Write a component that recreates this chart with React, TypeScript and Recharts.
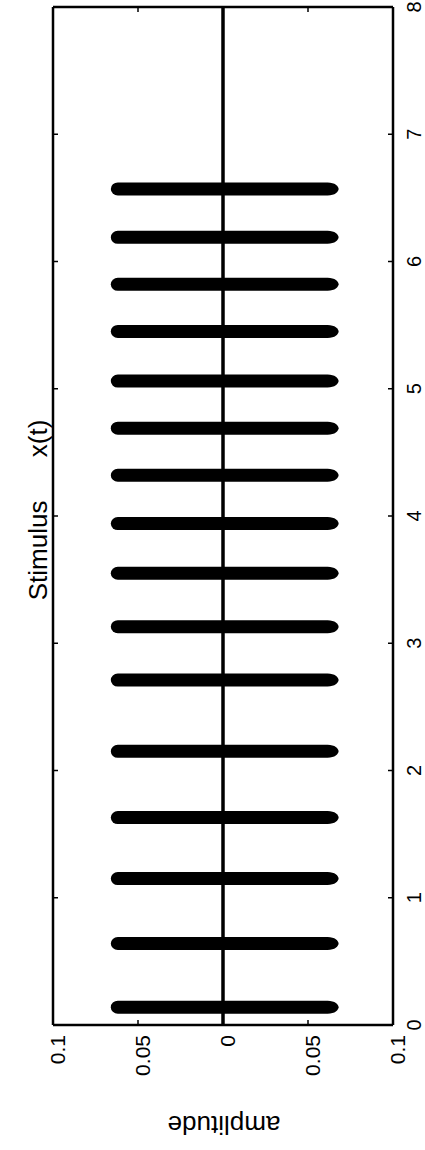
import React from 'react';
import { ComposedChart, Bar, XAxis, YAxis, ReferenceLine } from 'recharts';

// burst centre times (s)
const burstTimes = [0.14, 0.64, 1.15, 1.63, 2.15, 2.71, 3.13, 3.55, 3.94, 4.32, 4.69, 5.06, 5.45, 5.82, 6.19, 6.57];
// burst amplitude envelope (upper / lower)
const burstUpper = [0.066, 0.066, 0.066, 0.066, 0.066, 0.066, 0.066, 0.066, 0.066, 0.066, 0.066, 0.066, 0.066, 0.066, 0.066, 0.066];
const burstLower = [-0.068, -0.068, -0.068, -0.068, -0.068, -0.068, -0.068, -0.068, -0.068, -0.068, -0.068, -0.068, -0.068, -0.068, -0.068, -0.068];

const timeTicks = [0, 1, 2, 3, 4, 5, 6, 7, 8];
const ampTicks = [-0.1, -0.05, 0, 0.05, 0.1];
const ampTickLabels = ['0.1', '0.05', '0', '0.05', '0.1'];
const titleText = 'Stimulus      x(t)';
const ampLabelText = 'amplitude';

const data = burstTimes.map((t, i) => ({ t, range: [burstLower[i], burstUpper[i]] }));

const FONT = '"Liberation Sans", Arial, Helvetica, sans-serif';
const TICK_LEN = 5;

const BottomTick = (props: any) => {
  const { x, y, payload } = props;
  const idx = ampTicks.indexOf(payload.value);
  const label = idx >= 0 ? ampTickLabels[idx] : String(payload.value);
  const cx = x + 4;
  const cy = y + 10;
  return (
    <g>
      <line x1={x} y1={y} x2={x} y2={y - TICK_LEN} stroke="#000" strokeWidth={1.5} />
      <text x={cx} y={cy} transform={`rotate(-90, ${cx}, ${cy})`} textAnchor="end" dominantBaseline="central"
        fontFamily={FONT} fontSize={21} fill="#000">{label}</text>
    </g>
  );
};

const TopTick = (props: any) => {
  const { x, y } = props;
  return <line x1={x} y1={y} x2={x} y2={y + TICK_LEN} stroke="#000" strokeWidth={1.5} />;
};

const RightTick = (props: any) => {
  const { x, y, payload } = props;
  const cx = x + 21;
  return (
    <g>
      <line x1={x} y1={y} x2={x - TICK_LEN} y2={y} stroke="#000" strokeWidth={1.5} />
      <text x={cx} y={y} transform={`rotate(-90, ${cx}, ${y})`} textAnchor="middle" dominantBaseline="central"
        fontFamily={FONT} fontSize={20} fill="#000">{payload.value}</text>
    </g>
  );
};

const LeftTick = (props: any) => {
  const { x, y } = props;
  return <line x1={x} y1={y} x2={x + TICK_LEN} y2={y} stroke="#000" strokeWidth={1.5} />;
};

const BurstShape = (props: any) => {
  const { x, y, width, height, fill } = props;
  if (x == null || y == null || !width || !height) return null;
  const left = Math.min(x, x + width);
  const right = Math.max(x, x + width);
  const top = Math.min(y, y + height);
  const h = Math.abs(height);
  const r = 7;
  const tp = 11;
  const d = `M ${left + r} ${top} L ${right - tp} ${top} C ${right - tp / 3} ${top} ${right} ${top + h * 0.3} ${right} ${top + h / 2} C ${right} ${top + h * 0.7} ${right - tp / 3} ${top + h} ${right - tp} ${top + h} L ${left + r} ${top + h} A ${r} ${h / 2} 0 0 1 ${left + r} ${top} Z`;
  return <path d={d} fill={fill} />;
};

const TitleLabel = (props: any) => {
  const vb = props.viewBox || { x: 52, y: 7, width: 1, height: 1018 };
  const cx = 38;
  const cy = vb.y + vb.height / 2 - 6;
  return (
    <text x={cx} y={cy} transform={`rotate(-90, ${cx}, ${cy})`} textAnchor="middle" dominantBaseline="central"
      fontFamily={FONT} fontSize={26} fill="#000" style={{ whiteSpace: 'pre' }}>{titleText}</text>
  );
};

const AmpLabel = (props: any) => {
  const vb = props.viewBox || { x: 53, y: 1025, width: 340, height: 125 };
  const cx = vb.x + vb.width / 2 + 1;
  const cy = 1125;
  return (
    <text x={cx} y={cy} transform={`rotate(180, ${cx}, ${cy})`} textAnchor="middle" dominantBaseline="central"
      fontFamily={FONT} fontSize={26} fill="#000">{ampLabelText}</text>
  );
};

const axisLineStyle = { stroke: '#000', strokeWidth: 2.5 };

export default function App() {
  return (
    <div style={{ width: 425, height: 1150, background: '#fff' }}>
      <style>{'body{margin:0;background:#fff}'}</style>
      <ComposedChart width={425} height={1150} layout="vertical" data={data}
        margin={{ top: 6, left: 52, right: 0, bottom: 0 }}>
        <XAxis xAxisId="b" type="number" orientation="bottom" domain={[-0.1, 0.1]} ticks={ampTicks} reversed
          allowDataOverflow height={125} tickSize={0} tickMargin={0} tickLine={false} interval={0}
          axisLine={axisLineStyle} tick={<BottomTick />} label={(p: any) => <AmpLabel {...p} />} />
        <XAxis xAxisId="t" type="number" orientation="top" domain={[-0.1, 0.1]} ticks={ampTicks} reversed
          allowDataOverflow height={1} tickSize={0} tickMargin={0} tickLine={false} interval={0}
          axisLine={axisLineStyle} tick={<TopTick />} />
        <YAxis yAxisId="r" type="number" dataKey="t" orientation="right" domain={[0, 8]} ticks={timeTicks} reversed
          allowDataOverflow width={32} tickSize={0} tickMargin={0} tickLine={false} interval={0}
          axisLine={axisLineStyle} tick={<RightTick />} />
        <YAxis yAxisId="l" type="number" dataKey="t" orientation="left" domain={[0, 8]} ticks={timeTicks} reversed
          allowDataOverflow width={1} tickSize={0} tickMargin={0} tickLine={false} interval={0}
          axisLine={axisLineStyle} tick={<LeftTick />} label={(p: any) => <TitleLabel {...p} />} />
        <ReferenceLine x={0} xAxisId="b" yAxisId="r" stroke="#000" strokeWidth={3.5} />
        <Bar dataKey="range" xAxisId="b" yAxisId="r" barSize={13} fill="#000" isAnimationActive={false}
          shape={(p: any) => <BurstShape {...p} />} />
      </ComposedChart>
    </div>
  );
}
